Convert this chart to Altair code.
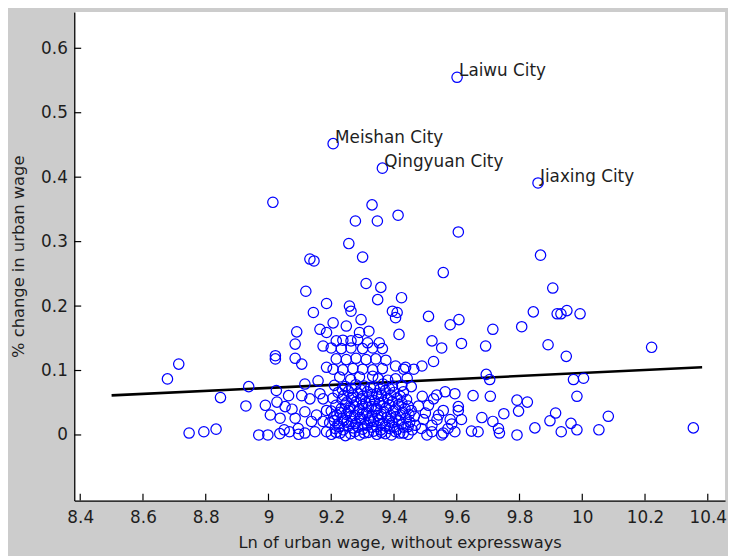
import altair as alt
import pandas as pd

# ---- data ----
ln_wage = [
    9.601, 9.206, 9.363, 9.859, 9.014, 9.330, 9.413, 9.277, 9.347, 9.605,
    9.256, 9.867, 9.300, 9.132, 9.145, 9.557, 9.311, 9.358, 9.906, 9.119,
    9.424, 9.348, 9.185, 9.258, 9.263, 9.143, 9.395, 9.410, 9.405, 9.844,
    9.920, 9.932, 9.951, 9.993, 9.510, 9.607, 9.579, 9.295, 9.206, 9.248,
    9.715, 9.807, 9.090, 9.164, 9.185, 9.290, 9.320, 9.416, 9.521, 9.552,
    9.615, 9.692, 9.891, 9.949, 10.221, 9.085, 9.174, 9.216, 9.237, 9.263,
    9.284, 9.316, 9.353, 9.200, 9.232, 9.263, 9.300, 9.332, 9.363, 9.022,
    9.022, 9.085, 9.106, 9.216, 9.248, 9.279, 9.311, 9.342, 9.374, 9.185,
    9.206, 9.237, 9.269, 9.300, 9.332, 9.363, 9.405, 9.431, 9.437, 9.463,
    9.489, 9.526, 9.694, 9.705, 9.972, 10.004, 9.227, 9.290, 9.332, 9.405,
    9.158, 9.116, 8.714, 8.678, 8.847, 8.937, 8.928, 8.747, 8.794, 8.833,
    8.969, 8.998, 9.036, 9.050, 9.067, 9.096, 9.116, 9.148, 9.185, 9.095,
    9.025, 8.990, 9.027, 9.053, 9.006, 9.037, 9.106, 9.132, 9.164, 9.116,
    9.153, 9.085, 9.137, 9.174, 9.174, 9.185, 9.064, 9.075, 9.652, 9.563,
    9.594, 9.536, 9.526, 9.510, 9.557, 9.605, 9.494, 9.537, 9.579, 9.615,
    9.521, 9.557, 9.594, 9.647, 9.668, 9.707, 9.983, 9.792, 9.825, 9.797,
    9.750, 9.680, 9.715, 9.733, 9.736, 9.792, 9.849, 9.915, 9.897, 9.964,
    9.933, 9.983, 10.053, 10.083, 10.354, 9.468, 9.542, 9.584, 9.521, 9.552,
    9.505, 9.605, 9.572, 9.487, 9.500, 9.478, 9.490,
    9.200, 9.228, 9.245, 9.262, 9.290, 9.318, 9.345, 9.372, 9.392, 9.418, 9.445,
    9.212, 9.238, 9.270, 9.300, 9.330, 9.358, 9.385, 9.410, 9.432, 9.458,
    9.195, 9.222, 9.250, 9.278, 9.305, 9.335, 9.362, 9.395, 9.425, 9.450,
    9.208, 9.235, 9.262, 9.292, 9.320, 9.348, 9.378, 9.405, 9.438, 9.465,
    9.200, 9.228, 9.255, 9.285, 9.312, 9.340, 9.368, 9.398, 9.428, 9.455,
    9.215, 9.245, 9.272, 9.300, 9.328, 9.355, 9.385, 9.415, 9.445,
    9.205, 9.235, 9.265, 9.295, 9.322, 9.350, 9.380, 9.410, 9.440,
    9.222, 9.255, 9.285, 9.315, 9.345, 9.372, 9.400, 9.430,
    9.210, 9.245, 9.278, 9.305, 9.335, 9.365, 9.395, 9.425, 9.455,
    9.262, 9.350, 9.380, 9.442,
    9.215, 9.275, 9.305, 9.335, 9.360, 9.405, 9.430,
    9.225, 9.255, 9.285, 9.315, 9.345, 9.372, 9.400, 9.445,
    9.210, 9.240, 9.265, 9.295, 9.325, 9.352, 9.385, 9.415,
    9.218, 9.248, 9.275, 9.300, 9.330, 9.360, 9.390, 9.420, 9.448,
    9.232, 9.260, 9.290, 9.318, 9.345, 9.375, 9.405, 9.435,
    9.250, 9.280, 9.310, 9.338, 9.365, 9.395, 9.425,
    9.240, 9.270, 9.300, 9.330, 9.360, 9.390, 9.420,
    9.235, 9.265, 9.295, 9.325, 9.355, 9.385,
]
pct_change = [
    0.555, 0.452, 0.414, 0.391, 0.361, 0.357, 0.341, 0.332, 0.332, 0.315,
    0.297, 0.279, 0.276, 0.273, 0.270, 0.252, 0.235, 0.229, 0.228, 0.223,
    0.213, 0.210, 0.204, 0.200, 0.192, 0.190, 0.192, 0.190, 0.182, 0.191,
    0.188, 0.188, 0.193, 0.188, 0.184, 0.179, 0.171, 0.179, 0.174, 0.169,
    0.164, 0.168, 0.160, 0.164, 0.159, 0.159, 0.161, 0.156, 0.146, 0.135,
    0.142, 0.138, 0.140, 0.122, 0.136, 0.141, 0.138, 0.146, 0.147, 0.146,
    0.148, 0.143, 0.143, 0.135, 0.134, 0.135, 0.134, 0.135, 0.134, 0.123,
    0.118, 0.119, 0.110, 0.118, 0.117, 0.119, 0.117, 0.118, 0.116, 0.105,
    0.102, 0.101, 0.103, 0.102, 0.101, 0.103, 0.107, 0.102, 0.105, 0.102,
    0.107, 0.114, 0.094, 0.086, 0.086, 0.088, 0.090, 0.090, 0.091, 0.087,
    0.084, 0.079, 0.110, 0.087, 0.058, 0.075, 0.045, 0.003, 0.005, 0.009,
    0.000, 0.000, 0.002, 0.008, 0.005, 0.001, 0.003, 0.005, 0.005, 0.010,
    0.069, 0.046, 0.051, 0.044, 0.031, 0.026, 0.061, 0.056, 0.064, 0.036,
    0.031, 0.026, 0.021, 0.021, 0.056, 0.038, 0.061, 0.040, 0.061, 0.067,
    0.064, 0.062, 0.056, 0.046, 0.038, 0.044, 0.024, 0.024, 0.024, 0.024,
    0.005, 0.003, 0.005, 0.006, 0.005, 0.060, 0.060, 0.054, 0.051, 0.037,
    0.033, 0.027, 0.021, 0.010, 0.003, 0.000, 0.011, 0.034, 0.022, 0.018,
    0.005, 0.008, 0.008, 0.029, 0.011, 0.015, 0.031, 0.017, 0.015, 0.000,
    0.000, 0.038, 0.010, 0.010, 0.034, 0.045, 0.060,
    0.001, 0.003, -0.001, 0.002, 0.000, 0.004, 0.001, 0.002, 0.000, 0.003, 0.001,
    0.010, 0.008, 0.011, 0.009, 0.012, 0.008, 0.010, 0.009, 0.012, 0.008,
    0.019, 0.017, 0.020, 0.018, 0.016, 0.021, 0.018, 0.019, 0.017, 0.020,
    0.028, 0.026, 0.029, 0.027, 0.025, 0.030, 0.027, 0.028, 0.026, 0.029,
    0.037, 0.035, 0.038, 0.036, 0.034, 0.039, 0.036, 0.037, 0.035, 0.038,
    0.046, 0.048, 0.045, 0.047, 0.044, 0.049, 0.046, 0.047, 0.045,
    0.057, 0.055, 0.058, 0.056, 0.054, 0.059, 0.056, 0.057, 0.055,
    0.066, 0.068, 0.065, 0.067, 0.064, 0.069, 0.066, 0.067,
    0.077, 0.075, 0.078, 0.076, 0.074, 0.079, 0.076, 0.077, 0.075,
    0.086, 0.087, 0.085, 0.088,
    0.004, 0.005, 0.003, 0.006, 0.004, 0.005, 0.003,
    0.013, 0.014, 0.012, 0.015, 0.013, 0.014, 0.012, 0.013,
    0.022, 0.023, 0.021, 0.024, 0.022, 0.023, 0.021, 0.022,
    0.031, 0.032, 0.030, 0.033, 0.031, 0.032, 0.030, 0.031, 0.032,
    0.041, 0.042, 0.040, 0.043, 0.041, 0.042, 0.040, 0.041,
    0.051, 0.052, 0.050, 0.053, 0.051, 0.052, 0.050,
    0.061, 0.062, 0.060, 0.063, 0.061, 0.062, 0.060,
    0.071, 0.072, 0.070, 0.073, 0.071, 0.072,
]

city_names = ["Laiwu City", "Meishan City", "Qingyuan City", "Jiaxing City"]
city_x = [9.601, 9.206, 9.363, 9.859]
city_y = [0.555, 0.452, 0.414, 0.391]

fit_x = [8.5, 10.382]
fit_y = [0.0614, 0.105]

x_ticks = [8.4, 8.6, 8.8, 9.0, 9.2, 9.4, 9.6, 9.8, 10.0, 10.2, 10.4]
y_ticks = [0.0, 0.1, 0.2, 0.3, 0.4, 0.5, 0.6]

X_DOMAIN = [8.381, 10.455]
Y_DOMAIN = [-0.1018, 0.6563]

W, H = 658, 494
FONT = "DejaVu Sans"
TXT = "#1e1e1e"

pts = pd.DataFrame({"x": ln_wage, "y": pct_change})
fit = pd.DataFrame({"x": fit_x, "y": fit_y})
lab = pd.DataFrame({"x": city_x, "y": city_y, "name": city_names})
xt = pd.DataFrame({"x": x_ticks})
yt = pd.DataFrame({"y": y_ticks})

xenc = alt.X(
    "x:Q",
    scale=alt.Scale(domain=X_DOMAIN, nice=False, zero=False),
    axis=alt.Axis(
        values=x_ticks, format="~g", title="Ln of urban wage, without expressways",
        grid=False, tickSize=0, labelPadding=9, labelFontSize=17, labelFont=FONT,
        labelColor=TXT, titleFont=FONT, titleFontSize=16.5, titleFontWeight="normal",
        titleColor=TXT, titleY=47, titleBaseline="alphabetic",
        domainColor="black", domainWidth=1.3, labelFlush=False,
    ),
)
yenc = alt.Y(
    "y:Q",
    scale=alt.Scale(domain=Y_DOMAIN, nice=False, zero=False),
    axis=alt.Axis(
        values=y_ticks, format="~g", title="% change in urban wage",
        grid=False, tickSize=0, labelPadding=7, labelFontSize=17, labelFont=FONT,
        labelColor=TXT, titleFont=FONT, titleFontSize=16.5, titleFontWeight="normal",
        titleColor=TXT, titleX=-51, titleY=H / 2, titleAngle=270,
        titleBaseline="alphabetic", titleAlign="center",
        domainColor="black", domainWidth=1.3, labelFlush=False,
    ),
)

points = alt.Chart(pts).mark_point(
    shape="circle", filled=False, color="#0000ff", size=110, strokeWidth=1.25, opacity=1
).encode(x=xenc, y=yenc)

line = alt.Chart(fit).mark_line(color="black", strokeWidth=2.6).encode(x=xenc, y=yenc)

texts = alt.Chart(lab).mark_text(
    align="left", baseline="alphabetic", dy=-1, dx=2, font=FONT, fontSize=17, color=TXT
).encode(x=xenc, y=yenc, text="name:N")

xticks = alt.Chart(xt).mark_rule(color="black", strokeWidth=1.2).encode(
    x=xenc, y=alt.value(H - 7), y2=alt.value(H)
)
yticks = alt.Chart(yt).mark_rule(color="black", strokeWidth=1.2).encode(
    y=yenc, x=alt.value(0), x2=alt.value(7)
)

chart = (
    alt.layer(line, points, texts, xticks, yticks)
    .properties(
        width=W, height=H,
        autosize=alt.AutoSizeParams(type="none"),
        padding={"left": 67, "top": 1, "right": 3, "bottom": 53},
        background="#cccccc",
    )
    .configure_view(fill="white", stroke=None)
)

chart.save("out.html", embed_options={"renderer": "svg", "actions": False})
